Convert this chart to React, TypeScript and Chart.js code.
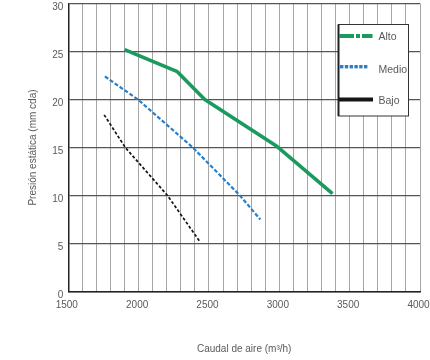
import React, { useEffect, useRef } from "react";
import { Chart, registerables } from "chart.js";

Chart.register(...registerables);

// ---- data ----
const xTickLabels = [1500, 2000, 2500, 3000, 3500, 4000];
const yTickLabels = [0, 5, 10, 15, 20, 25, 30];

const seriesNames = ["Alto", "Medio", "Bajo"];

const altoX = [1900, 2275, 2470, 2985, 3378];
const altoY = [25.2, 22.9, 20.0, 15.1, 10.2];

const medioX = [1760, 1995, 2385, 2720, 2865];
const medioY = [22.4, 20.0, 15.0, 10.0, 7.5];

const bajoX = [1755, 1905, 2205, 2435];
const bajoY = [18.4, 15.0, 10.0, 5.2];

const xTitle = "Caudal de aire (m³/h)";
const yTitle = "Presión estática (mm cda)";

const FONT = "'Liberation Sans', Arial, sans-serif";
const GREEN = "#1b9a5e";
const BLUE = "#2a7fc6";
const BLACK = "#151515";
const TEXT = "#5a5a5a";

const pts = (xs: number[], ys: number[]) => xs.map((x, i) => ({ x, y: ys[i] }));

const legendPlugin = {
  id: "customLegend",
  afterDraw(chart: any) {
    const ctx = chart.ctx;
    ctx.save();
    const L = 338.5, T = 24.5, W = 70, H = 91.5;
    ctx.fillStyle = "#ffffff";
    ctx.fillRect(L, T, W, H);
    ctx.strokeStyle = "#333333";
    ctx.lineWidth = 1;
    ctx.strokeRect(L, T, W, H);
    ctx.fillStyle = "#222";
    ctx.fillRect(L - 1, T, 2, H);

    // Alto: dash-dot style green
    ctx.fillStyle = GREEN;
    const ay = 34;
    ctx.fillRect(339, ay, 15, 4);
    ctx.fillRect(356, ay, 4, 4);
    ctx.fillRect(362, ay, 10.5, 4);

    // Medio: dotted blue
    ctx.fillStyle = BLUE;
    for (let i = 0; i < 6; i++) {
      ctx.fillRect(340 + i * 4.8, 65, 3.4, 3.4);
    }

    // Bajo: solid black
    ctx.fillStyle = BLACK;
    ctx.fillRect(339, 97.5, 34, 4);

    ctx.fillStyle = TEXT;
    ctx.font = `10.5px ${FONT}`;
    ctx.textBaseline = "middle";
    ctx.textAlign = "left";
    ctx.fillText(seriesNames[0], 378.5, 37);
    ctx.fillText(seriesNames[1], 378.5, 70);
    ctx.fillText(seriesNames[2], 378.5, 101.5);
    ctx.restore();
  },
};

export default function App() {
  const ref = useRef<HTMLCanvasElement | null>(null);

  useEffect(() => {
    if (!ref.current) return;
    const font = { family: FONT, size: 10 };
    const chart = new Chart(ref.current, {
      type: "line",
      data: {
        datasets: [
          {
            label: seriesNames[0],
            data: pts(altoX, altoY),
            borderColor: GREEN,
            borderWidth: 3.6,
            pointRadius: 0,
            tension: 0,
            borderJoinStyle: "round",
          },
          {
            label: seriesNames[1],
            data: pts(medioX, medioY),
            borderColor: BLUE,
            borderWidth: 2.2,
            borderDash: [4, 2],
            pointRadius: 0,
            tension: 0,
          },
          {
            label: seriesNames[2],
            data: pts(bajoX, bajoY),
            borderColor: BLACK,
            borderWidth: 1.7,
            borderDash: [3, 2],
            pointRadius: 0,
            tension: 0,
          },
        ],
      },
      options: {
        responsive: false,
        animation: false,
        devicePixelRatio: 1,
        layout: { padding: { left: 0, top: 3.5, right: 10, bottom: 0 } },
        plugins: {
          legend: { display: false },
          tooltip: { enabled: false },
        },
        scales: {
          x: {
            type: "linear",
            min: xTickLabels[0],
            max: xTickLabels[xTickLabels.length - 1],
            afterBuildTicks: (scale: any) => {
              const t: any[] = [];
              for (let v = xTickLabels[0]; v <= xTickLabels[xTickLabels.length - 1]; v += 100) t.push({ value: v });
              scale.ticks = t;
            },
            afterFit: (scale: any) => {
              scale.height = 68.5;
              scale.paddingLeft = 0;
              scale.paddingRight = 0;
            },
            ticks: {
              autoSkip: false,
              maxRotation: 0,
              padding: 8,
              labelOffset: -1.5,
              color: TEXT,
              font,
              callback: (v: any) => (xTickLabels.includes(Number(v)) ? String(v) : ""),
            },
            grid: { color: "#a6a6a6", lineWidth: 1, drawTicks: false },
            border: { color: "#222", width: 1.5 },
            title: {
              display: true,
              text: xTitle,
              color: TEXT,
              font,
              padding: { top: 0, bottom: 5 },
            },
          },
          y: {
            type: "linear",
            min: yTickLabels[0],
            max: yTickLabels[yTickLabels.length - 1],
            afterBuildTicks: (scale: any) => {
              scale.ticks = yTickLabels.map((v) => ({ value: v }));
            },
            afterFit: (scale: any) => {
              scale.width = 68.3;
              scale.paddingTop = 0;
              scale.paddingBottom = 0;
            },
            ticks: {
              padding: 5,
              labelOffset: 4,
              color: TEXT,
              font,
            },
            grid: { color: "#555555", lineWidth: 1.3, drawTicks: false },
            border: { color: "#222", width: 1.5 },
            title: {
              display: true,
              text: yTitle,
              color: TEXT,
              font,
              padding: { top: 27, bottom: 0 },
            },
          },
        },
      },
      plugins: [legendPlugin],
    });
    return () => chart.destroy();
  }, []);

  return (
    <div style={{ position: "fixed", left: 0, top: 0, width: 430, height: 360, background: "#fff" }}>
      <canvas ref={ref} width={430} height={360} style={{ width: 430, height: 360 }} />
    </div>
  );
}
